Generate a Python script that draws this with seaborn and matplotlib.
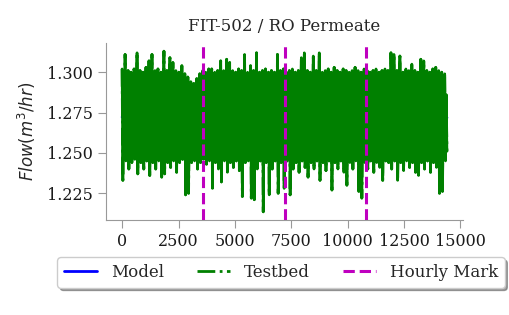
import matplotlib
matplotlib.use('Agg')
import numpy as np
import pandas as pd
import matplotlib.pyplot as plt
import seaborn as sns

# valores: picos altos y bajos del Testbed (FIT-502)
testbed_hi = [1.302, 1.311, 1.301, 1.300, 1.302, 1.312, 1.301, 1.300, 1.303, 1.307,
              1.311, 1.301, 1.302, 1.300, 1.313, 1.301, 1.309, 1.306, 1.301, 1.300,
              1.304, 1.299, 1.297, 1.294, 1.293, 1.296, 1.299, 1.301, 1.300, 1.302,
              1.302, 1.300, 1.301, 1.307, 1.301, 1.308, 1.306, 1.301, 1.300, 1.302,
              1.301, 1.311, 1.300, 1.304, 1.301, 1.312, 1.300, 1.301, 1.302, 1.300,
              1.301, 1.300, 1.311, 1.301, 1.302, 1.300, 1.301, 1.302, 1.300, 1.301,
              1.309, 1.312, 1.301, 1.300, 1.310, 1.301, 1.312, 1.300, 1.301, 1.302,
              1.300, 1.303, 1.301, 1.300, 1.302, 1.301, 1.300, 1.301, 1.303, 1.301,
              1.300, 1.302, 1.301, 1.300, 1.301, 1.302, 1.300, 1.301, 1.302, 1.301,
              1.312, 1.311, 1.301, 1.310, 1.300, 1.302, 1.301, 1.305, 1.301, 1.300,
              1.308, 1.307, 1.301, 1.300, 1.302, 1.303, 1.301, 1.300, 1.299]
testbed_lo = [1.233, 1.245, 1.240, 1.244, 1.246, 1.237, 1.244, 1.240, 1.245, 1.236,
              1.244, 1.240, 1.245, 1.235, 1.237, 1.244, 1.241, 1.245, 1.238, 1.244,
              1.246, 1.224, 1.225, 1.244, 1.245, 1.240, 1.244, 1.246, 1.243, 1.245,
              1.228, 1.244, 1.240, 1.232, 1.245, 1.238, 1.244, 1.241, 1.245, 1.239,
              1.223, 1.244, 1.245, 1.222, 1.221, 1.240, 1.245, 1.2135, 1.244, 1.224,
              1.240, 1.245, 1.225, 1.244, 1.228, 1.245, 1.224, 1.240, 1.244, 1.238,
              1.245, 1.241, 1.235, 1.244, 1.240, 1.245, 1.233, 1.244, 1.239, 1.245,
              1.227, 1.244, 1.240, 1.245, 1.238, 1.230, 1.244, 1.240, 1.245, 1.226,
              1.222, 1.244, 1.240, 1.245, 1.238, 1.244, 1.241, 1.233, 1.245, 1.244,
              1.240, 1.245, 1.233, 1.244, 1.239, 1.245, 1.241, 1.244, 1.238, 1.236,
              1.244, 1.240, 1.245, 1.238, 1.244, 1.241, 1.225, 1.226, 1.245]
# muestras intermedias dentro de la banda (ruido del caudal)
core_a = [1.286, 1.297, 1.271, 1.292, 1.279, 1.299, 1.268, 1.290, 1.283, 1.296,
          1.274, 1.293, 1.281, 1.266, 1.298, 1.277, 1.289, 1.272, 1.295, 1.284,
          1.269, 1.288, 1.276, 1.285, 1.270, 1.291, 1.280, 1.297, 1.267, 1.287,
          1.294, 1.273, 1.290, 1.282, 1.299, 1.265, 1.286, 1.278, 1.296, 1.271,
          1.289, 1.283, 1.268, 1.298, 1.275, 1.292, 1.280, 1.270, 1.294, 1.285,
          1.277, 1.297, 1.266, 1.288, 1.281, 1.295, 1.273, 1.290, 1.269, 1.286,
          1.299, 1.279, 1.292, 1.267, 1.284, 1.296, 1.274, 1.289, 1.282, 1.270,
          1.293, 1.278, 1.298, 1.265, 1.287, 1.280, 1.295, 1.272, 1.290, 1.283,
          1.268, 1.297, 1.276, 1.291, 1.285, 1.271, 1.294, 1.279, 1.288, 1.266,
          1.296, 1.281, 1.273, 1.292, 1.286, 1.269, 1.299, 1.277, 1.284, 1.290,
          1.274, 1.295, 1.280, 1.267, 1.289, 1.283, 1.297, 1.272, 1.286]
core_b = [1.258, 1.249, 1.266, 1.253, 1.275, 1.247, 1.261, 1.270, 1.251, 1.279,
          1.256, 1.264, 1.248, 1.273, 1.259, 1.252, 1.268, 1.246, 1.262, 1.277,
          1.254, 1.250, 1.271, 1.257, 1.265, 1.248, 1.276, 1.260, 1.253, 1.269,
          1.247, 1.263, 1.274, 1.255, 1.250, 1.267, 1.258, 1.278, 1.249, 1.261,
          1.272, 1.252, 1.264, 1.246, 1.270, 1.257, 1.251, 1.276, 1.262, 1.248,
          1.266, 1.254, 1.279, 1.259, 1.247, 1.268, 1.256, 1.273, 1.250, 1.263,
          1.253, 1.275, 1.249, 1.260, 1.271, 1.255, 1.265, 1.246, 1.277, 1.258,
          1.252, 1.269, 1.261, 1.248, 1.274, 1.257, 1.250, 1.266, 1.254, 1.272,
          1.259, 1.247, 1.263, 1.278, 1.251, 1.267, 1.256, 1.249, 1.270, 1.262,
          1.253, 1.276, 1.258, 1.246, 1.264, 1.273, 1.252, 1.268, 1.255, 1.249,
          1.271, 1.260, 1.254, 1.275, 1.248, 1.265, 1.257, 1.269, 1.251]
model_vals = [1.2722, 1.2720, 1.2719, 1.2721, 1.2720, 1.2718]
hourly_marks = [3600, 7200, 10800]
duracion_s = 14400

# serie intercalada: pico alto, pico bajo y dos muestras intermedias por tramo
testbed = np.ravel(np.column_stack([testbed_hi, testbed_lo, core_a, core_b]))
df_tb = pd.DataFrame({'t': np.linspace(0, duracion_s, len(testbed)), 'flow': testbed})
df_md = pd.DataFrame({'t': np.linspace(0, duracion_s, len(model_vals)), 'flow': model_vals})

sns.set_style("ticks")
plt.rcParams['font.family'] = ['DejaVu Serif']
plt.rcParams['axes.edgecolor'] = '0.6'
plt.rcParams['xtick.color'] = '0.6'
plt.rcParams['ytick.color'] = '0.6'
plt.rcParams['xtick.labelcolor'] = '0.1'
plt.rcParams['ytick.labelcolor'] = '0.1'

fig, ax = plt.subplots(figsize=(5.09, 3.15), dpi=100)
fig.subplots_adjust(left=0.208, right=0.910, top=0.863, bottom=0.302)

sns.lineplot(data=df_md, x='t', y='flow', ax=ax, color='b', lw=2, label='Model', zorder=1)
# trazo de relleno: con 14400 muestras la banda original se ve maciza
ax.plot(df_tb['t'], df_tb['flow'], color='g', lw=1.9, zorder=2)
sns.lineplot(data=df_tb, x='t', y='flow', ax=ax, color='g', lw=2, linestyle='-.',
             label='Testbed', zorder=2)
for i, h in enumerate(hourly_marks):
    ax.axvline(h, color='m', lw=2.2, linestyle='--', zorder=3,
               label='Hourly Mark' if i == 0 else None)

ax.set_title("FIT-502 / RO Permeate", fontsize=12, pad=9)
ax.set_xlabel("")
ax.set_ylabel(r"$Flow(m^3/hr)$", fontsize=12, labelpad=6)
ax.set_xticks([0, 2500, 5000, 7500, 10000, 12500, 15000])
ax.tick_params(labelsize=11.5, length=6)
sns.despine(ax=ax)

ax.legend(loc='upper center', bbox_to_anchor=(0.49, -0.165), ncol=3, fontsize=12,
          columnspacing=2.0, frameon=True, fancybox=True, shadow=True)

plt.savefig("out.png", dpi=100)
plt.close()
